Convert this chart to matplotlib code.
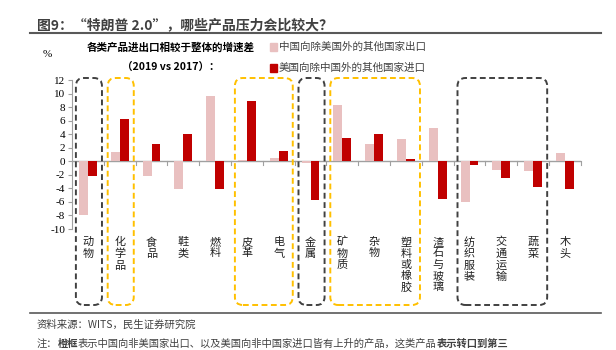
import matplotlib
matplotlib.use("Agg")
import matplotlib.pyplot as plt
import matplotlib.transforms as mtransforms
from matplotlib.patches import FancyBboxPatch, Rectangle
from matplotlib.lines import Line2D
import numpy as np

plt.rcParams['font.family'] = ['Noto Sans CJK SC', 'DejaVu Sans']

# --- data ---
categories = ["动物", "化学品", "食品", "鞋类", "燃料", "皮革", "电气", "金属",
              "矿物质", "杂物", "塑料或橡胶", "渣石与玻璃", "纺织服装", "交通运输", "蔬菜", "木头"]
china_export = [-8.0, 1.3, -2.2, -4.1, 9.7, 0.2, 0.5, -0.2, 8.3, 2.5, 3.3, 4.9, -6.0, -1.3, -1.5, 1.2]
us_import = [-2.2, 6.3, 2.5, 4.1, -4.1, 8.9, 1.5, -5.7, 3.4, 4.0, 0.3, -5.5, -0.6, -2.4, -3.8, -4.1]
series_names = ["中国向除美国外的其他国家出口", "美国向除中国外的其他国家进口"]
yticks = list(range(-10, 13, 2))
gray_groups = [(0, 0), (7, 7), (12, 14)]      # first/last category index in each box
orange_groups = [(1, 1), (5, 6), (8, 10)]

pink = "#E9C0C0"
red = "#C00000"

fig = plt.figure(figsize=(6.16, 3.5), dpi=100)
ax = fig.add_axes([0.117, 0.3457, 0.826, 0.4257])

x = np.arange(len(categories))
w = 0.28
ax.bar(x - 0.14, china_export, w, color=pink, zorder=2)
ax.bar(x + 0.14, us_import, w, color=red, zorder=3)

ax.set_xlim(-0.5, len(categories) - 0.5)
ax.set_ylim(-10, 12)
ax.set_yticks(yticks)
ax.set_yticklabels([str(v) for v in yticks], family="Liberation Serif", fontsize=8)
ax.tick_params(axis="y", length=3, color="#A0A0A0", pad=2)
ax.set_xticks([])
for s in ["top", "right", "bottom"]:
    ax.spines[s].set_visible(False)
ax.spines["left"].set_color("#A0A0A0")
ax.axhline(0, color="#A0A0A0", lw=1, zorder=1)
for b in np.arange(-0.5, len(categories), 1.0):
    ax.plot([b, b], [0, -0.6], color="#A0A0A0", lw=0.8, clip_on=False, zorder=1)

# vertical stacked category labels
lbl_tr = mtransforms.blended_transform_factory(ax.transData, ax.transAxes)
for i, c in enumerate(categories):
    ax.text(i, -0.055, "\n".join(c), transform=lbl_tr, ha="center", va="top",
            fontsize=8, linespacing=1.15, color="#202020")

# dashed rounded boxes around groups
fig.canvas.draw()
box_top, box_bot = 350 - 78, 350 - 305
def add_box(i, j, color):
    x0 = ax.transData.transform((i - 0.38, 0))[0]
    x1 = ax.transData.transform((j + 0.44, 0))[0]
    p = FancyBboxPatch((x0, box_bot), x1 - x0, box_top - box_bot,
                       boxstyle="round,pad=0,rounding_size=8",
                       fill=False, ec=color, lw=1.4, ls=(0, (3, 1.8)),
                       transform=mtransforms.IdentityTransform())
    fig.add_artist(p)
for i, j in gray_groups:
    add_box(i, j, "#404040")
for i, j in orange_groups:
    add_box(i, j, "#FFC000")

# header / titles
fig.text(0.060, 0.928, "图9：“特朗普 2.0”，哪些产品压力会比较大？", fontsize=10,
         fontweight="bold", color="#404040", va="center")
fig.add_artist(Line2D([0.049, 0.975], [0.905, 0.905], color="#595959", lw=1.5))
fig.add_artist(Line2D([0.049, 0.975], [0.106, 0.106], color="#595959", lw=1.2))

fig.text(0.077, 0.843, "%", fontsize=8, family="Liberation Serif", ha="center", va="center")
fig.text(0.277, 0.865, "各类产品进出口相较于整体的增速差", fontsize=7.6, fontweight="bold",
         ha="center", va="center")
fig.text(0.277, 0.808, "（2019 vs 2017）：", fontsize=7.6, fontweight="bold",
         ha="center", va="center")

for k, (name, col) in enumerate(zip(series_names, [pink, red])):
    yy = 0.865 - k * 0.059
    fig.add_artist(Rectangle((0.439, yy - 0.012), 0.011, 0.024, color=col,
                             transform=fig.transFigure))
    fig.text(0.453, yy, name, fontsize=7.6, color="#404040", va="center")

# footer
fig.text(0.060, 0.071, "资料来源：WITS，民生证券研究院", fontsize=7.5, color="#404040", va="center")
parts = [("注：", "normal"), ("橙框", "bold"),
         ("表示中国向非美国家出口、以及美国向非中国家进口皆有上升的产品，这类产品", "normal"),
         ("表示转口到第三", "bold")]
r = fig.canvas.get_renderer()
xpos = 0.060
for t, fw in parts:
    tx = fig.text(xpos, 0.018, t, fontsize=7.4, fontweight=fw, color="#404040", va="center")
    bb = tx.get_window_extent(renderer=r)
    xpos += bb.width / fig.bbox.width

fig.savefig("out.png", dpi=100)
